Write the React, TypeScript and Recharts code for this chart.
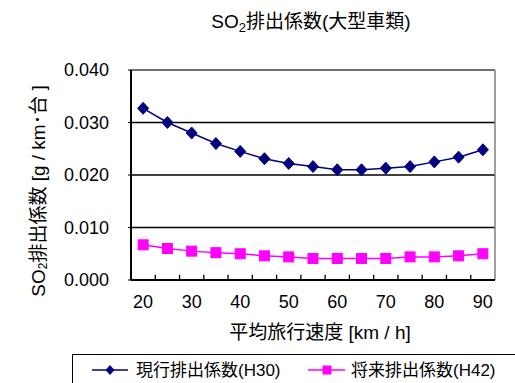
import React from 'react';
import { LineChart, Line, XAxis, YAxis, CartesianGrid, ReferenceLine } from 'recharts';

const speeds = [20, 25, 30, 35, 40, 45, 50, 55, 60, 65, 70, 75, 80, 85, 90];
const currentFactors = [0.0327, 0.0300, 0.0280, 0.0260, 0.0245, 0.0231, 0.0222, 0.0216, 0.0210, 0.0210, 0.0213, 0.0216, 0.0225, 0.0234, 0.0248];
const futureFactors = [0.0067, 0.0060, 0.0055, 0.0052, 0.0050, 0.0046, 0.0044, 0.0041, 0.0041, 0.0041, 0.0041, 0.0044, 0.0044, 0.0046, 0.0050];
const xLabelTicks = [20, 30, 40, 50, 60, 70, 80, 90];
const yTicks = [0, 0.01, 0.02, 0.03, 0.04];
const boundaryTicks = [17.5, 22.5, 27.5, 32.5, 37.5, 42.5, 47.5, 52.5, 57.5, 62.5, 67.5, 72.5, 77.5, 82.5, 87.5, 92.5];
const tickMarkHeight = 0.001;
const seriesNames = ['現行排出係数(H30)', '将来排出係数(H42)'];

const data = speeds.map((s, i) => ({ speed: s, current: currentFactors[i], future: futureFactors[i] }));

const FONT = '"Liberation Sans", Arial, "Noto Sans CJK JP", sans-serif';
const NAVY = '#000080';
const PINK = '#FF00FF';

const Diamond = (props: any) => {
  const { cx, cy, index } = props;
  if (cx == null || cy == null) return <g key={`d${index}`} />;
  return (
    <path
      key={`d${index}`}
      d={`M${cx},${cy - 6}L${cx + 5.5},${cy}L${cx},${cy + 6}L${cx - 5.5},${cy}Z`}
      fill={NAVY}
      stroke={NAVY}
      strokeWidth={1}
    />
  );
};

const Square = (props: any) => {
  const { cx, cy, index } = props;
  if (cx == null || cy == null) return <g key={`s${index}`} />;
  return <rect key={`s${index}`} x={cx - 5} y={cy - 5} width={10} height={10} fill={PINK} stroke={PINK} strokeWidth={1} />;
};

const XTick = (props: any) => {
  const { x, y, payload } = props;
  return (
    <text x={x} y={y + 28} textAnchor="middle" fontSize={18} fill="#000" fontFamily={FONT}>
      {payload && payload.value}
    </text>
  );
};

const YLabel = (props: any) => {
  const { viewBox } = props;
  const cx = viewBox.x + 38;
  const cy = viewBox.y + viewBox.height / 2 + 16;
  return (
    <text
      x={0}
      y={0}
      transform={`translate(${cx},${cy}) rotate(-90)`}
      textAnchor="middle"
      dominantBaseline="central"
      fontSize={19}
      fill="#000"
      fontFamily={FONT}
    >
      SO<tspan fontSize={12} dy={5}>2</tspan>
      <tspan dy={-5}>排出係数 [g / km･台 ]</tspan>
    </text>
  );
};

const XLabel = (props: any) => {
  const { viewBox } = props;
  const cx = viewBox.x + viewBox.width / 2 + 7;
  return (
    <text x={cx} y={viewBox.y + 59} textAnchor="middle" fontSize={19} fill="#000" fontFamily={FONT}>
      平均旅行速度 [km / h]
    </text>
  );
};

export default function App() {
  return (
    <div style={{ position: 'absolute', left: 0, top: 0, width: 515, height: 383, overflow: 'hidden', background: '#fff', fontFamily: FONT }}>
      <div
        style={{
          position: 'absolute',
          left: 311,
          top: 11,
          transform: 'translateX(-50%)',
          whiteSpace: 'nowrap',
          fontSize: 19,
          lineHeight: '22px',
          color: '#000',
        }}
      >
        SO<sub style={{ fontSize: 13, verticalAlign: '-4px', lineHeight: 0 }}>2</sub>排出係数(大型車類)
      </div>
      <LineChart width={515} height={383} data={data} margin={{ top: 70, right: 20, bottom: 43, left: 0 }}>
        <CartesianGrid vertical={false} stroke="#000" strokeWidth={1.5} />
        <XAxis
          dataKey="speed"
          type="number"
          domain={[17.5, 92.5]}
          ticks={xLabelTicks}
          interval={0}
          height={60}
          tick={<XTick />}
          tickSize={0}
          tickMargin={0}
          tickLine={false}
          axisLine={{ stroke: '#000', strokeWidth: 2 }}
          label={<XLabel />}
        />
        <YAxis
          domain={[0, 0.04]}
          ticks={yTicks}
          interval={0}
          width={131}
          tickFormatter={(v: number) => v.toFixed(3)}
          tickSize={3}
          tickMargin={19}
          tickLine={{ stroke: '#000' }}
          axisLine={{ stroke: '#000', strokeWidth: 2 }}
          tick={{ fontSize: 18, fill: '#000', fontFamily: FONT }}
          label={<YLabel />}
        />
        <ReferenceLine y={0.04} stroke="#808080" strokeWidth={1.5} />
        <ReferenceLine x={92.5} stroke="#808080" strokeWidth={1.5} />
        {boundaryTicks.slice(1, -1).map((b) => (
          <ReferenceLine
            key={`bt${b}`}
            segment={[
              { x: b, y: 0 },
              { x: b, y: tickMarkHeight },
            ]}
            stroke="#000"
            strokeWidth={1.3}
          />
        ))}
        <Line
          dataKey="current"
          name={seriesNames[0]}
          stroke={NAVY}
          strokeWidth={1.5}
          dot={Diamond}
          activeDot={false}
          isAnimationActive={false}
        />
        <Line
          dataKey="future"
          name={seriesNames[1]}
          stroke={PINK}
          strokeWidth={1.5}
          dot={Square}
          activeDot={false}
          isAnimationActive={false}
        />
      </LineChart>
      <div
        style={{
          position: 'absolute',
          left: 72,
          top: 354,
          width: 480,
          height: 40,
          border: '1px solid #000',
          boxSizing: 'border-box',
          background: '#fff',
        }}
      />
      <svg style={{ position: 'absolute', left: 0, top: 355 }} width={515} height={28}>
        <line x1={92} y1={15} x2={128} y2={15} stroke={NAVY} strokeWidth={1.5} />
        <path d="M110,10L114.5,15L110,20L105.5,15Z" fill={NAVY} />
        <line x1={308} y1={15} x2={345} y2={15} stroke={PINK} strokeWidth={1.5} />
        <rect x={322.5} y={10.5} width={9} height={9} fill={PINK} />
      </svg>
      <div style={{ position: 'absolute', left: 136, top: 360, fontSize: 17, lineHeight: '22px', whiteSpace: 'nowrap', color: '#000' }}>
        {seriesNames[0]}
      </div>
      <div style={{ position: 'absolute', left: 351, top: 360, fontSize: 17, lineHeight: '22px', whiteSpace: 'nowrap', color: '#000' }}>
        {seriesNames[1]}
      </div>
    </div>
  );
}
